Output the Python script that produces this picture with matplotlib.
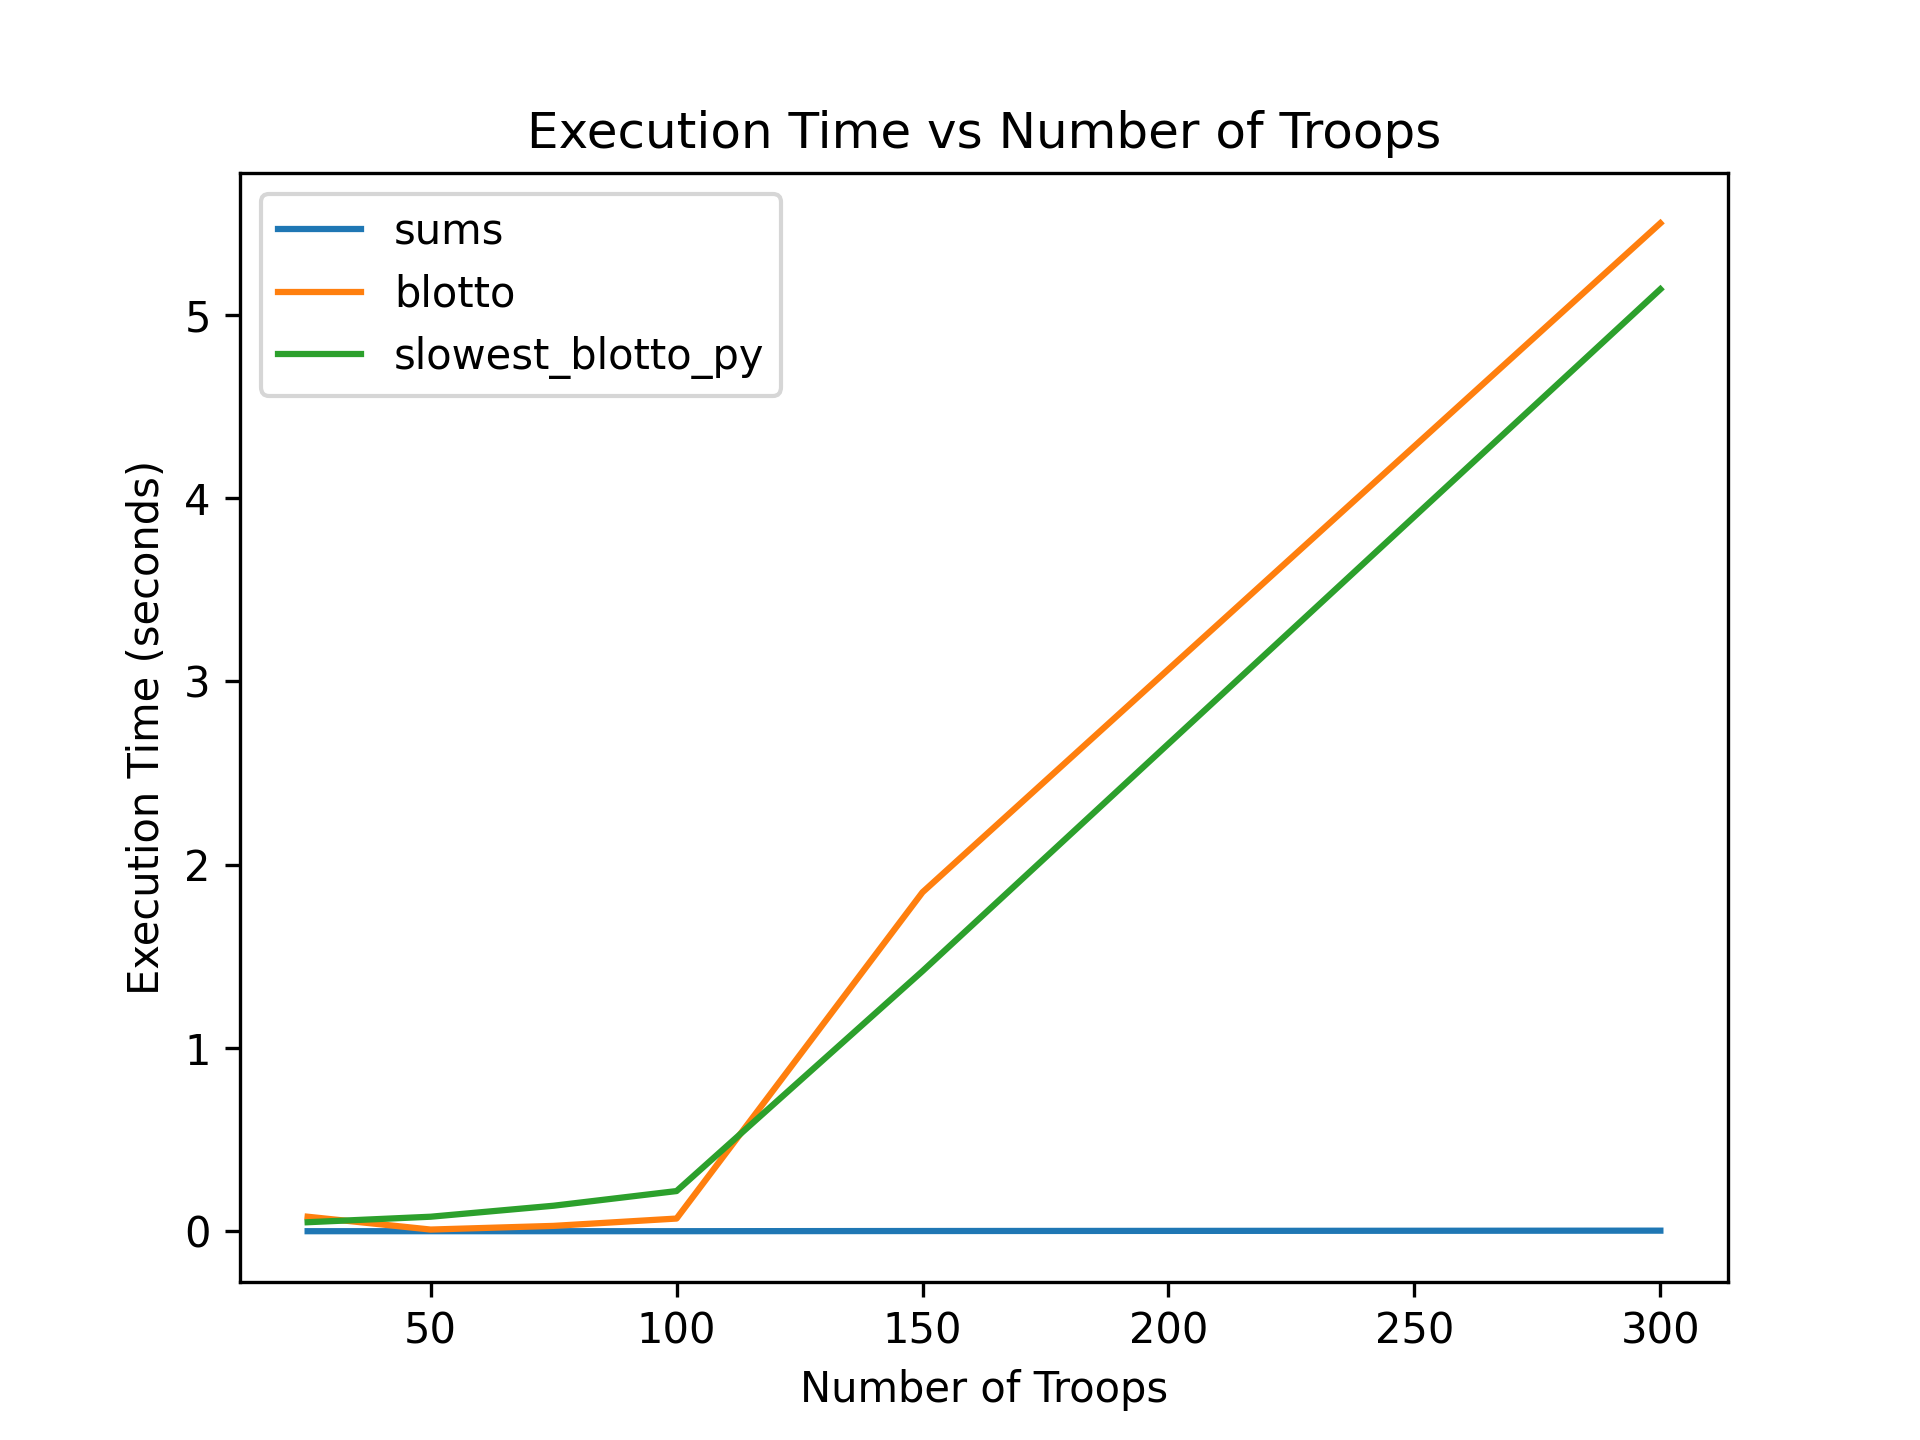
import matplotlib
matplotlib.use("Agg")
import matplotlib.pyplot as plt

troops = [25, 50, 75, 100, 150, 300]
sums = [0.001, 0.001, 0.001, 0.001, 0.002, 0.004]
blotto = [0.08, 0.01, 0.03, 0.07, 1.85, 5.50]
slowest_blotto_py = [0.05, 0.08, 0.14, 0.22, 1.42, 5.14]

fig, ax = plt.subplots(figsize=(6.4, 4.8), dpi=300)
ax.plot(troops, sums, label="sums")
ax.plot(troops, blotto, label="blotto")
ax.plot(troops, slowest_blotto_py, label="slowest_blotto_py")

ax.set_title("Execution Time vs Number of Troops")
ax.set_xlabel("Number of Troops")
ax.set_ylabel("Execution Time (seconds)")
ax.legend(loc="upper left")

fig.savefig("out.png")
